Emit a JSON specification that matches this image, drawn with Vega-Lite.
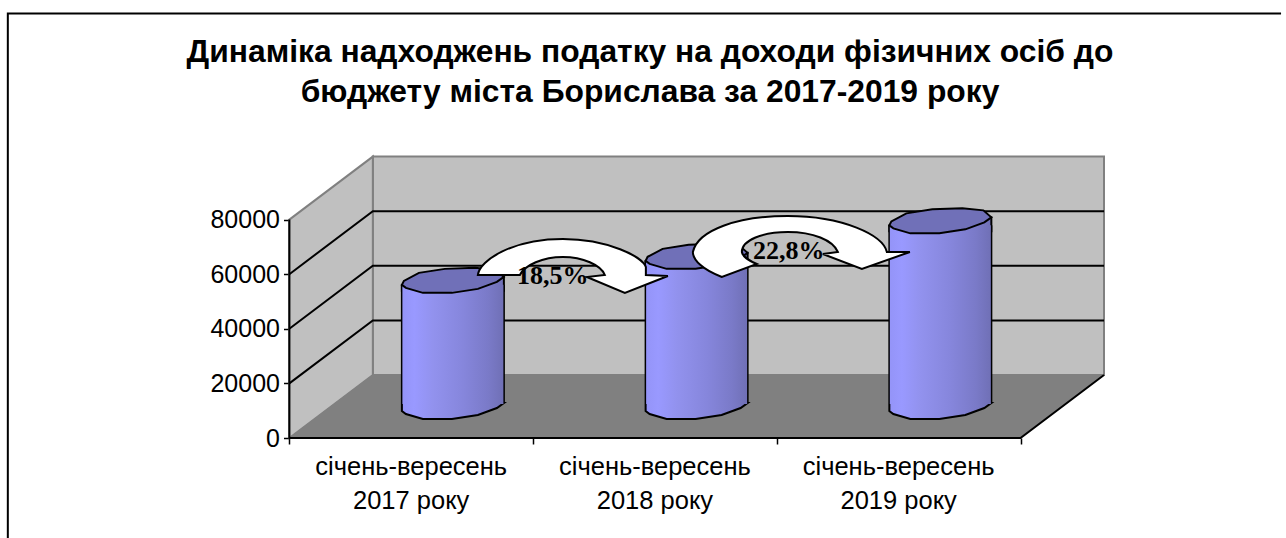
{
"$schema":"https://vega.github.io/schema/vega-lite/v6.json",
"width":1286,"height":538,"padding":0,"autosize":"none",
"background":"#ffffff",
"config":{"view":{"stroke":null}},
"title":{"text":["Динаміка надходжень податку на доходи фізичних осіб до","бюджету міста Борислава за 2017-2019 року"],"font":"Liberation Sans","fontSize":31.8,"fontWeight":"bold","color":"#000000","lineHeight":40,"anchor":"middle","frame":"group","baseline":"alphabetic","offset":0,"dx":7,"dy":134},
"datasets":{
"cylinders":[
{"period":"січень-вересень\n2017 року","x":0.5,"v":46200,"zero":0},
{"period":"січень-вересень\n2018 року","x":1.5,"v":55000,"zero":0},
{"period":"січень-вересень\n2019 року","x":2.5,"v":68000,"zero":0}],
"backwall":[{"x":0.3426,"x2":3.3426,"v":103077,"v2":23077}],
"leftwall":[{"x":0,"v":80000,"v2":0},{"x":0.3426,"v":103077,"v2":23077}],
"floor":[{"x":0,"v":0,"v2":0},{"x":0.3426,"v":23077,"v2":0},{"x":3,"v":23077,"v2":0},{"x":3.3426,"v":23077,"v2":23077}],
"grid":[
{"g":"a","x":0,"v":20000},{"g":"a","x":0.3426,"v":43077},{"g":"a","x":3.3426,"v":43077},
{"g":"b","x":0,"v":40000},{"g":"b","x":0.3426,"v":63077},{"g":"b","x":3.3426,"v":63077},
{"g":"c","x":0,"v":60000},{"g":"c","x":0.3426,"v":83077},{"g":"c","x":3.3426,"v":83077}],
"blackedges":[
{"g":"axis","x":0,"v":80000},{"g":"axis","x":0,"v":0},{"g":"axis","x":3,"v":0},{"g":"axis","x":3.3426,"v":23077}],
"frame":[{"x":-1.155,"v":-36630},{"x":-1.155,"v":155500},{"x":4.069,"v":155500}],
"arrow1":[{"x":1.1223,"v":63370}],
"arrow2":[{"x":2.0455,"v":70700}],
"pct":[{"x":1.0812,"v":59300,"t":"18,5%"},{"x":2.0496,"v":68500,"t":"22,8%"}]
},
"encoding":{
"x":{"field":"x","type":"quantitative","scale":{"domain":[-1.1666,4.0688],"nice":false,"zero":false},
 "axis":{"values":[0,1,2,3],"title":null,"labels":false,"grid":false,"domain":false,"orient":"bottom","offset":-100,"tickSize":6,"tickWidth":1.5,"tickColor":"#000000"}},
"y":{"field":"v","type":"quantitative","scale":{"domain":[-36630,160440],"nice":false,"zero":false},
 "axis":{"values":[0,20000,40000,60000,80000],"format":"d","title":null,"grid":false,"domain":false,"orient":"left","offset":-289.5,"tickSize":6,"tickWidth":1.5,"tickColor":"#000000","labelFont":"Liberation Sans","labelFontSize":25,"labelColor":"#000000","labelPadding":4}}
},
"layer":[
{"data":{"name":"frame"},"mark":{"type":"line","color":"#000000","strokeWidth":2,"clip":false}},
{"data":{"name":"backwall"},"mark":{"type":"rect","fill":"#c0c0c0","stroke":"#808080","strokeWidth":2},"encoding":{"x2":{"field":"x2"},"y2":{"field":"v2"}}},
{"data":{"name":"leftwall"},"mark":{"type":"area","orient":"vertical","fill":"#c0c0c0","stroke":"#808080","strokeWidth":2},"encoding":{"y2":{"field":"v2"}}},
{"data":{"name":"floor"},"mark":{"type":"area","orient":"vertical","fill":"#808080","stroke":"#808080","strokeWidth":1},"encoding":{"y2":{"field":"v2"}}},
{"data":{"name":"grid"},"mark":{"type":"line","color":"#000000","strokeWidth":2},"encoding":{"detail":{"field":"g"}}},
{"data":{"name":"blackedges"},"mark":{"type":"line","color":"#000000","strokeWidth":2}},
{"data":{"name":"cylinders"},"mark":{"type":"bar","width":104,"color":"#000000","xOffset":41.7,"yOffset":-27,"y2Offset":-36},"encoding":{"y2":{"field":"zero"}}},
{"data":{"name":"cylinders"},"mark":{"type":"point","filled":true,"opacity":1,"size":4,"xOffset":41.7,"yOffset":-31,"shape":"M-51,-4 L51,-4 L44,1 L25,8 L-1,12 L-30,12 L-47,7 L-51,4 Z","stroke":"#000000","strokeWidth":2,"fill":{"x1":0,"x2":1,"y1":0,"y2":0,"gradient":"linear","stops":[{"offset":0,"color":"#9494f8"},{"offset":0.12,"color":"#9999ff"},{"offset":0.3,"color":"#9292ee"},{"offset":0.6,"color":"#8686dc"},{"offset":0.85,"color":"#7a7ac8"},{"offset":1,"color":"#7070b6"}]}},"encoding":{"y":{"field":"zero","type":"quantitative"}}},
{"data":{"name":"cylinders"},"mark":{"type":"point","filled":true,"opacity":1,"size":4,"xOffset":41.7,"yOffset":-31,"shape":"M-51,4 L51,-4 L51,10 L-51,10 Z","stroke":"#000000","strokeWidth":2,"fill":{"x1":0,"x2":1,"y1":0,"y2":0,"gradient":"linear","stops":[{"offset":0,"color":"#9494f8"},{"offset":0.12,"color":"#9999ff"},{"offset":0.3,"color":"#9292ee"},{"offset":0.6,"color":"#8686dc"},{"offset":0.85,"color":"#7a7ac8"},{"offset":1,"color":"#7070b6"}]}}},
{"data":{"name":"cylinders"},"mark":{"type":"bar","width":101,"xOffset":41.7,"yOffset":-27,"y2Offset":-34,"fill":{"x1":0,"x2":1,"y1":0,"y2":0,"gradient":"linear","stops":[{"offset":0,"color":"#9494f8"},{"offset":0.12,"color":"#9999ff"},{"offset":0.3,"color":"#9292ee"},{"offset":0.6,"color":"#8686dc"},{"offset":0.85,"color":"#7a7ac8"},{"offset":1,"color":"#7070b6"}]}},"encoding":{"y2":{"field":"zero"}}},
{"data":{"name":"cylinders"},"mark":{"type":"point","filled":true,"opacity":1,"size":4,"xOffset":41.7,"yOffset":-31,"shape":"M-51,4 L-49,0 L-34,-8 L-8,-12 L22,-13 L43,-11 L51,-4 L44,1 L25,8 L-1,12 L-30,12 L-47,7 Z","fill":"#7070b8","stroke":"#000000","strokeWidth":2}},
{"data":{"name":"cylinders"},"mark":{"type":"text","font":"Liberation Sans","fontSize":25.5,"color":"#000000","baseline":"alphabetic","align":"center","dy":37,"lineHeight":33.5,"lineBreak":"\n"},"encoding":{"text":{"field":"period"},"y":{"field":"zero","type":"quantitative"}}},
{"data":{"name":"arrow1"},"mark":{"type":"point","filled":true,"opacity":1,"size":4,"fill":"#ffffff","stroke":"#000000","strokeWidth":2,"shape":"M-85,10 C-83,-5 -50,-26 0,-26 C45,-26 80,-8 83,2 L83,10 L105,11 L62,28 L24,12 L42,10 C38,0 20,-8 0,-8 C-20,-8 -38,0 -43,10 Z"}},
{"data":{"name":"arrow2"},"mark":{"type":"point","filled":true,"opacity":1,"size":4,"fill":"#ffffff","stroke":"#000000","strokeWidth":2,"shape":"M-95,7 C-90,-15 -50,-29 0,-29 C55,-29 95,-10 99,7 L122,7 L74,24 L35,9 L50,7 C45,-5 25,-13 0,-13 C-25,-13 -46,-5 -46,7 C-45,12 -40,15 -31,19 L-66,32 C-85,25 -95,15 -95,7 Z"}},
{"data":{"name":"pct"},"mark":{"type":"text","font":"Liberation Serif","fontSize":26,"fontWeight":"bold","color":"#000000","baseline":"middle","align":"center"},"encoding":{"text":{"field":"t"}}}
]
}
